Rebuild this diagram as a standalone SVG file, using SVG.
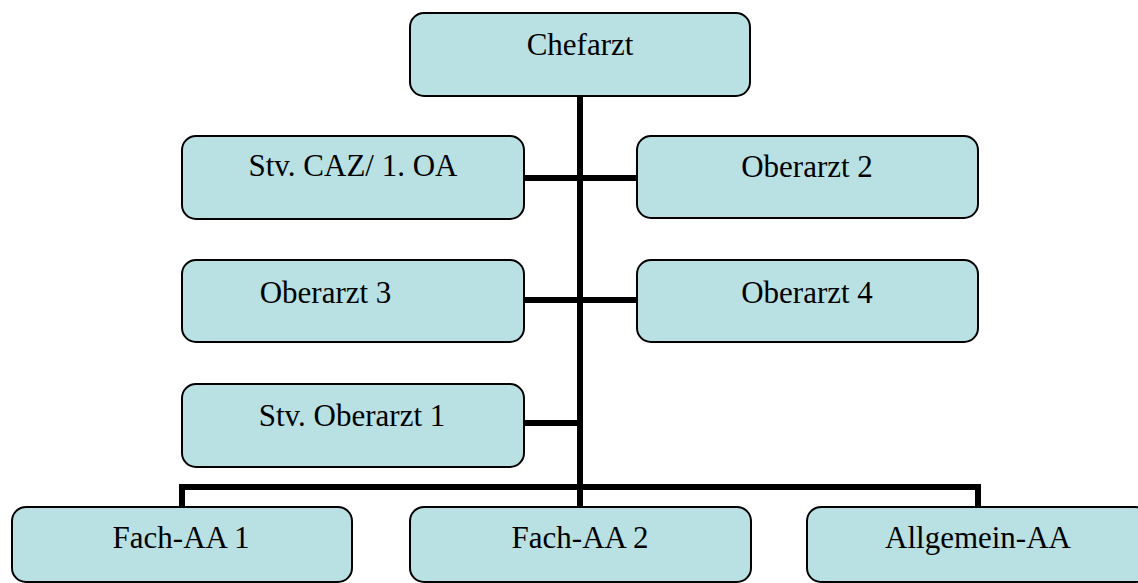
<svg xmlns="http://www.w3.org/2000/svg" width="1138" height="583" viewBox="0 0 1138 583">
<style>
.box{fill:#b9e0e3;stroke:#000;stroke-width:2}
.lbl{font-family:"Liberation Serif","Times New Roman",serif;font-size:31px;fill:#000;text-anchor:middle}
.con{stroke:#000;stroke-width:6;fill:none}
</style>
<rect width="1138" height="583" fill="#fff"/>
<g id="connectors">
<line class="con" x1="580" y1="96" x2="580" y2="490"/>
<line class="con" x1="524" y1="178" x2="637" y2="178"/>
<line class="con" x1="524" y1="300" x2="637" y2="300"/>
<line class="con" x1="524" y1="423" x2="580" y2="423"/>
<polyline class="con" points="182,507 182,487 978,487 978,507"/>
<line class="con" x1="580" y1="487" x2="580" y2="507"/>
</g>
<g id="chefarzt"><rect class="box" x="410" y="13" width="340" height="83" rx="14"/><text class="lbl" x="580" y="55">Chefarzt</text></g>
<g id="stv-caz"><rect class="box" x="182" y="136" width="342" height="83" rx="14"/><text class="lbl" x="353" y="176">Stv. CAZ/ 1. OA</text></g>
<g id="oberarzt2"><rect class="box" x="637" y="136" width="341" height="82" rx="14"/><text class="lbl" x="807" y="177">Oberarzt 2</text></g>
<g id="oberarzt3"><rect class="box" x="182" y="260" width="342" height="82" rx="14"/><text class="lbl" x="325.5" y="303">Oberarzt 3</text></g>
<g id="oberarzt4"><rect class="box" x="637" y="260" width="341" height="82" rx="14"/><text class="lbl" x="807" y="303">Oberarzt 4</text></g>
<g id="stv-oberarzt1"><rect class="box" x="182" y="384" width="342" height="83" rx="14"/><text class="lbl" x="352" y="426">Stv. Oberarzt 1</text></g>
<g id="fach-aa1"><rect class="box" x="12" y="507" width="340" height="75" rx="14"/><text class="lbl" x="181" y="548">Fach-AA 1</text></g>
<g id="fach-aa2"><rect class="box" x="410" y="507" width="341" height="75" rx="14"/><text class="lbl" x="580" y="548">Fach-AA 2</text></g>
<g id="allgemein-aa"><rect class="box" x="807" y="507" width="342" height="75" rx="14"/><text class="lbl" x="978" y="548">Allgemein-AA</text></g>
</svg>
